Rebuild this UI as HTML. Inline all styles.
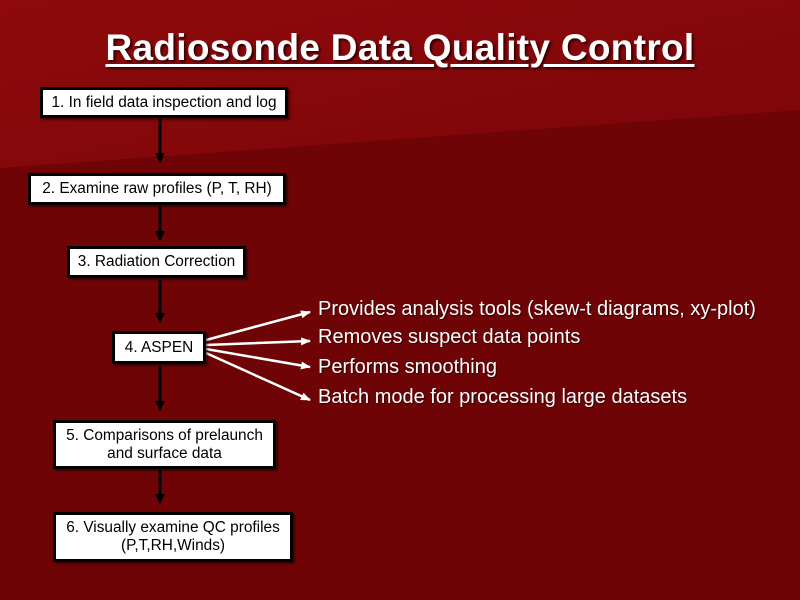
<!DOCTYPE html>
<html><head><style>
body{margin:0;width:800px;height:600px;overflow:hidden;background:#6f0406;font-family:"Liberation Sans",Arial,sans-serif;position:relative}
.t{position:absolute;left:0;width:800px;top:27px;text-align:center;color:#fff;font-weight:bold;font-size:37px;letter-spacing:0.3px;text-decoration:underline;text-decoration-thickness:3px;text-underline-offset:4px;text-shadow:2px 2px 2px #300}
.b{position:absolute;background:#fff;border:3px solid #000;box-sizing:border-box;color:#000;font-size:15.4px;text-align:center;display:flex;align-items:center;justify-content:center;line-height:18px;box-shadow:2px 2px 2px rgba(0,0,0,.5);white-space:nowrap}
.l{position:absolute;left:318px;color:#fff;font-size:20px;white-space:nowrap;text-shadow:1px 1px 1px #300}
</style></head><body>
<svg width="800" height="600" style="position:absolute;left:0;top:0">
<defs><linearGradient id="g" x1="0" y1="0" x2="1" y2="1"><stop offset="0" stop-color="#8e0a0c"/><stop offset="1" stop-color="#7c0508"/></linearGradient>
<marker id="k" markerWidth="10" markerHeight="10" refX="9" refY="5" orient="auto" markerUnits="userSpaceOnUse"><path d="M0,0L10,5L0,10z" fill="#000"/></marker>
<marker id="w" markerWidth="10" markerHeight="8" refX="9" refY="4" orient="auto" markerUnits="userSpaceOnUse"><path d="M0,0L10,4L0,8z" fill="#fff"/></marker></defs>
<polygon points="0,0 800,0 800,110 0,168" fill="url(#g)"/>
<g stroke="#000" stroke-width="3" marker-end="url(#k)">
<line x1="160" y1="119" x2="160" y2="162"/>
<line x1="160" y1="206" x2="160" y2="240"/>
<line x1="160" y1="280" x2="160" y2="322"/>
<line x1="160" y1="366" x2="160" y2="410"/>
<line x1="160" y1="470" x2="160" y2="503"/>
</g>
<g stroke="#fff" stroke-width="2.5" marker-end="url(#w)">
<line x1="206" y1="340" x2="310" y2="312"/>
<line x1="206" y1="345" x2="310" y2="341"/>
<line x1="206" y1="349" x2="310" y2="367"/>
<line x1="206" y1="353" x2="310" y2="400"/>
</g>
</svg>
<div class="t">Radiosonde Data Quality Control</div>
<div class="b" style="left:40px;top:87px;width:248px;height:31px">1. In field data inspection and log</div>
<div class="b" style="left:28px;top:173px;width:258px;height:32px">2. Examine raw profiles (P, T, RH)</div>
<div class="b" style="left:67px;top:246px;width:179px;height:32px">3. Radiation Correction</div>
<div class="b" style="left:112px;top:331px;width:94px;height:33px">4. ASPEN</div>
<div class="b" style="left:53px;top:420px;width:223px;height:49px">5. Comparisons of prelaunch<br>and surface data</div>
<div class="b" style="left:53px;top:512px;width:240px;height:50px">6. Visually examine QC profiles<br>(P,T,RH,Winds)</div>
<div class="l" style="top:298px">Provides analysis tools (skew-t diagrams, xy-plot)</div>
<div class="l" style="top:326px">Removes suspect data points</div>
<div class="l" style="top:356px">Performs smoothing</div>
<div class="l" style="top:386px">Batch mode for processing large datasets</div>
</body></html>
